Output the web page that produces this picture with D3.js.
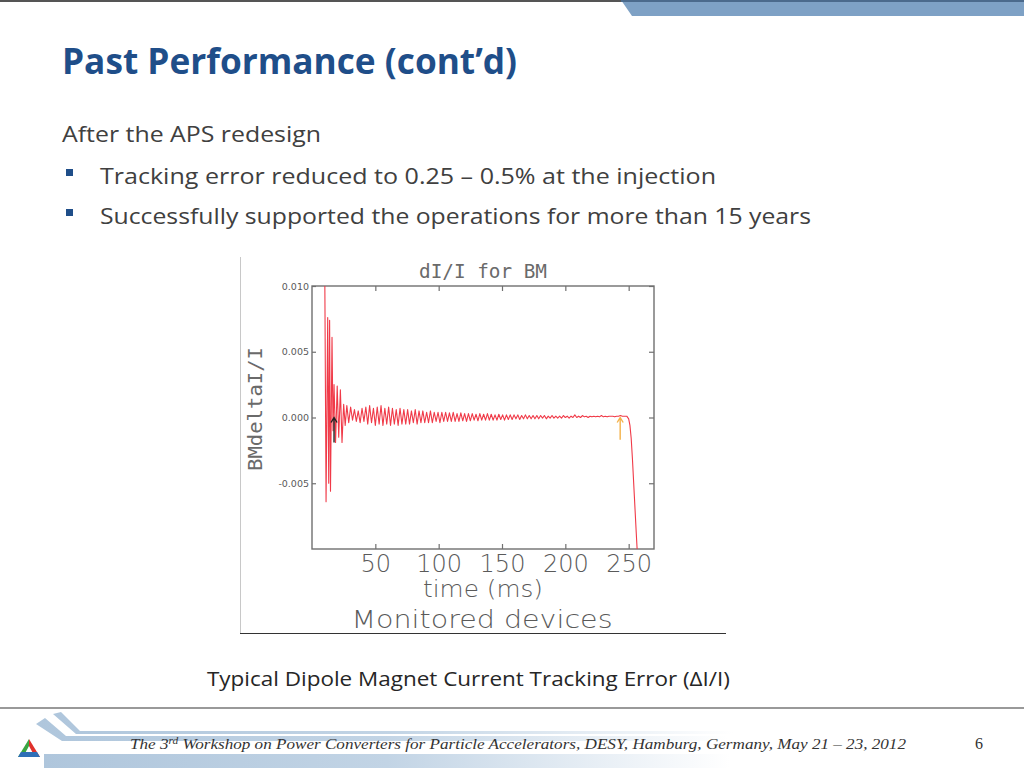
<!DOCTYPE html>
<html>
<head>
<meta charset="utf-8">
<script src="https://cdn.jsdelivr.net/npm/d3@7"></script>
<style>
  body { margin: 0; background: #fff; }
  svg { display: block; }
</style>
</head>
<body>
<div id="slide"></div>
<script>

// dI/I trace for BM (time in ms)
let timeMs = [10.0, 11.1, 12.4, 13.2, 13.9, 14.6, 15.8, 16.6, 17.4, 18.6, 19.9, 21.1, 22.4, 23.7, 25.0, 26.2,
    27.5, 29, 30.5, 32, 33.5, 35, 36.5, 38, 39.5, 41, 42.5, 44, 45.5, 47, 48.5, 50, 51.5, 53, 54.5, 56,
    57.5, 59, 60.5, 62, 63.5, 65, 66.5, 68, 69.5, 71, 72.5, 74, 75.5, 77, 78.5, 80, 81.5, 83, 84.5, 86,
    87.5, 89, 90.5, 92, 93.5, 95, 96.5, 98, 99.5, 101, 102.5, 104, 105.5, 107, 108.5, 110, 111.5, 113, 114.5, 116,
    117.5, 119, 120.5, 122, 123.5, 125, 126.5, 128, 129.5, 131, 132.5, 134, 135.5, 137, 138.5, 140, 141.5, 143, 144.5, 146,
    147.5, 149, 150.5, 152, 153.5, 155, 156.5, 158, 159.5, 161, 162.5, 164, 165.5, 167, 168.5, 170, 171.5, 173, 174.5, 176,
    177.5, 179, 180.5, 182, 183.5, 185, 186.5, 188, 189.5, 191, 192.5, 194, 195.5, 197, 198.5, 200, 201.5, 203, 204.5, 206,
    207.5, 209, 210.5, 212, 213.5, 215, 216.5, 218, 219.5, 221, 222.5, 224, 225.5, 227, 228.5, 230, 231.5, 233, 234.5, 236,
    237.5, 239, 240.5, 242, 243.5, 245,
    247, 248.5, 250, 251, 252, 253, 254.5, 256, 257.5];

let dIoverI = [0.0125, -0.0064, 0.0076, -0.0050, 0.0074, -0.0056, 0.0061, -0.0010, 0.0025, -0.0019, 0.0024, -0.0015, 0.0021, -0.0019, 0.0010, -0.0006,
    0.0009, -0.0004, 0.0008, -0.0002, 0.0006, -0.0003, 0.0005, -0.0004, 0.0007, -0.0003,
    0.0008, -0.0005, 0.0009, -0.0004, 0.0007, -0.0006, 0.0008, -0.0005, 0.0009, -0.0006,
    0.0007, -0.0005, 0.0008, -0.0006, 0.0007, -0.0005, 0.0006, -0.0006, 0.0007, -0.0005,
    0.0006, -0.0005, 0.0006, -0.0005, 0.0005, -0.0004, 0.0006, -0.0005, 0.0005, -0.0004,
    0.0005, -0.0004, 0.0004, -0.0004, 0.0005, -0.0004, 0.0004, -0.0003, 0.0004, -0.0004,
    0.0004, -0.0003, 0.0004, -0.0003, 0.00035, -0.0003, 0.0004, -0.0003, 0.0003, -0.0003,
    0.00035, -0.00025, 0.0003, -0.0003, 0.0003, -0.00025, 0.0003, -0.0002, 0.00025, -0.00025,
    0.0003, -0.0002, 0.00025, -0.0002, 0.0003, -0.0002, 0.00025, -0.0002, 0.0002, -0.0002,
    0.00025, -0.00015, 0.0002, -0.0002, 0.0002, -0.00015, 0.0002, -0.00015, 0.0002, -0.0001,
    0.0002, -0.00015, 0.00015, -0.0001, 0.0002, -0.0001, 0.00015, -0.0001, 0.00015, -0.0001,
    0.00015, -0.0001, 0.00015, -0.00005, 0.00015, -0.0001, 0.0001, -0.00005, 0.00015, -0.00005,
    0.0001, -0.00005, 0.0001, -0.00005, 0.00015, 0.0, 0.0001, -0.00005, 0.0001, 0.0,
    0.0002, 0.0, 0.0001, 0.0, 0.00015, 0.00005, 0.0001, 0.0, 0.0001, 0.00005,
    0.0001, 0.00005, 0.0001, 0.00005, 0.00015, 0.00005, 0.0001, 0.00005, 0.0001, 0.0001,
    0.0001, 0.00005, 0.0001, 0.0001, 0.00015, 0.0001,
    0.0001, 0.0001, -0.0001, -0.0006, -0.0016, -0.0032, -0.0060, -0.0088, -0.0115];

// marker arrows (time, tail value, tip value)
let arrowTimes = [17.4, 243.3];
let arrowTails = [-0.0019, -0.0017];
let arrowTips = [0.0, 0.0];

let xTicks = [50, 100, 150, 200, 250];
let yTicks = [-0.005, 0.000, 0.005, 0.010];

let bullets = ["Tracking error reduced to 0.25 \u2013 0.5% at the injection",
    "Successfully supported the operations for more than 15 years"];

let svg = d3.select("#slide").append("svg")
    .attr("width", 1024)
    .attr("height", 768);

// ---- slide header ----
svg.append("line")
    .attr("x1", 0).attr("x2", 624).attr("y1", 1).attr("y2", 1)
    .attr("stroke", "#555").attr("stroke-width", 2);
svg.append("path")
    .attr("d", "M621,0 L632,16 L1024,16 L1024,0 Z")
    .attr("fill", "#7ea1c5");
svg.append("line")
    .attr("x1", 621).attr("x2", 1024).attr("y1", 1).attr("y2", 1)
    .attr("stroke", "#4b6a8c").attr("stroke-width", 2);

svg.append("text")
    .attr("x", 62).attr("y", 74)
    .attr("font-family", "'Open Sans', sans-serif")
    .attr("font-weight", "bold")
    .attr("font-size", 35)
    .attr("fill", "#1f4e89")
    .attr("textLength", 455).attr("lengthAdjust", "spacingAndGlyphs")
    .text("Past Performance (cont\u2019d)");

svg.append("text")
    .attr("x", 62).attr("y", 142)
    .attr("font-family", "'Open Sans', sans-serif")
    .attr("font-size", 22)
    .attr("fill", "#404040")
    .attr("textLength", 259).attr("lengthAdjust", "spacingAndGlyphs")
    .text("After the APS redesign");

let bulletLen = [616, 711];
bullets.forEach(function(b, i) {
    let by = 184 + i * 40;
    svg.append("rect")
        .attr("x", 66).attr("y", by - 15).attr("width", 7).attr("height", 7)
        .attr("fill", "#1f4e89");
    svg.append("text")
        .attr("x", 100).attr("y", by)
        .attr("font-family", "'Open Sans', sans-serif")
        .attr("font-size", 22)
        .attr("fill", "#404040")
        .attr("textLength", bulletLen[i]).attr("lengthAdjust", "spacingAndGlyphs")
        .text(b);
});

// ---- the plot image ----
svg.append("line")
    .attr("x1", 240.5).attr("x2", 240.5).attr("y1", 257).attr("y2", 633)
    .attr("stroke", "#c8c8c8");
svg.append("line")
    .attr("x1", 240).attr("x2", 726).attr("y1", 633.5).attr("y2", 633.5)
    .attr("stroke", "#333").attr("stroke-width", 1.2);

let plot = {left: 312, right: 654, top: 286, bottom: 549};

let x = d3.scaleLinear()
    .domain([0, 270])
    .range([plot.left, plot.right]);

let y = d3.scaleLinear()
    .domain([-0.01, 0.01])
    .range([plot.bottom, plot.top]);

let axisColor = "#707070";
let labelColor = "#5a5a5a";

let xAxis = d3.axisBottom(x).tickValues(xTicks).tickSize(-5).tickPadding(6).tickFormat(d3.format("d"));
let xAxisTop = d3.axisTop(x).tickValues(xTicks).tickSize(-5).tickFormat("");
let yAxis = d3.axisLeft(y).tickValues(yTicks).tickSize(-4).tickPadding(3)
    .tickFormat(d => d3.format(".3f")(d).replace("\u2212", "-"));
let yAxisRight = d3.axisRight(y).tickValues(yTicks).tickSize(-5).tickFormat("");

let gx = svg.append("g")
    .attr("transform", "translate(0," + plot.bottom + ")")
    .call(xAxis);
let gxt = svg.append("g")
    .attr("transform", "translate(0," + plot.top + ")")
    .call(xAxisTop);
let gy = svg.append("g")
    .attr("transform", "translate(" + plot.left + ",0)")
    .call(yAxis);
let gyr = svg.append("g")
    .attr("transform", "translate(" + plot.right + ",0)")
    .call(yAxisRight);

[gx, gxt, gy, gyr].forEach(function(g) {
    g.select(".domain").remove();
    g.selectAll(".tick line").attr("stroke", axisColor).attr("stroke-width", 1.2);
});

gx.selectAll(".tick text")
    .attr("font-family", "'DejaVu Sans', sans-serif")
    .attr("font-weight", 200)
    .attr("font-size", 24)
    .attr("fill", labelColor);

gy.selectAll(".tick text")
    .attr("font-family", "'DejaVu Sans', sans-serif")
    .attr("font-size", 9.5)
    .attr("fill", labelColor);

svg.append("rect")
    .attr("x", plot.left).attr("y", plot.top)
    .attr("width", plot.right - plot.left).attr("height", plot.bottom - plot.top)
    .attr("fill", "none")
    .attr("stroke", axisColor).attr("stroke-width", 1.4);

svg.append("clipPath").attr("id", "plotclip")
    .append("rect")
    .attr("x", plot.left).attr("y", plot.top)
    .attr("width", plot.right - plot.left).attr("height", plot.bottom - plot.top);

let trace = timeMs.map((t, i) => ({t: t, v: dIoverI[i]}));

let line = d3.line()
    .x(d => x(d.t))
    .y(d => y(d.v));

svg.append("path")
    .datum(trace)
    .attr("clip-path", "url(#plotclip)")
    .attr("d", line)
    .attr("fill", "none")
    .attr("stroke", "#f03a48")
    .attr("stroke-width", 1.1)
    .attr("stroke-linejoin", "round");

// marker arrows
let arrowColors = ["#222", "#f4b24a"];
arrowTimes.forEach(function(t, i) {
    let ax = x(t), y0 = y(arrowTails[i]), y1 = y(arrowTips[i]);
    svg.append("path")
        .attr("d", "M" + ax + "," + y0 + " L" + ax + "," + y1 +
            " M" + (ax - 3) + "," + (y1 + 5) + " L" + ax + "," + y1 + " L" + (ax + 3) + "," + (y1 + 5))
        .attr("fill", "none")
        .attr("stroke", arrowColors[i])
        .attr("stroke-width", 1.4);
});

// plot titles
let monoColor = "#6a6a6a";
svg.append("text")
    .attr("x", (plot.left + plot.right) / 2).attr("y", 278)
    .attr("text-anchor", "middle")
    .attr("font-family", "'DejaVu Sans Mono', monospace")
    .attr("font-size", 19)
    .attr("fill", monoColor)
    .attr("textLength", 128).attr("lengthAdjust", "spacingAndGlyphs")
    .text("dI/I for BM");

svg.append("text")
    .attr("transform", "translate(262,409) rotate(-90)")
    .attr("text-anchor", "middle")
    .attr("font-family", "'DejaVu Sans Mono', monospace")
    .attr("font-size", 20)
    .attr("fill", monoColor)
    .attr("textLength", 124).attr("lengthAdjust", "spacingAndGlyphs")
    .text("BMdeltaI/I");

svg.append("text")
    .attr("x", 483).attr("y", 597)
    .attr("text-anchor", "middle")
    .attr("font-family", "'DejaVu Sans', sans-serif")
    .attr("font-weight", 200)
    .attr("font-size", 23)
    .attr("fill", labelColor)
    .attr("textLength", 120).attr("lengthAdjust", "spacingAndGlyphs")
    .text("time (ms)");

svg.append("text")
    .attr("x", 482).attr("y", 628)
    .attr("text-anchor", "middle")
    .attr("font-family", "'DejaVu Sans', sans-serif")
    .attr("font-weight", 200)
    .attr("font-size", 25)
    .attr("fill", labelColor)
    .attr("textLength", 261).attr("lengthAdjust", "spacingAndGlyphs")
    .text("Monitored devices");

// caption
svg.append("text")
    .attr("x", 207).attr("y", 686)
    .attr("font-family", "'Open Sans', sans-serif")
    .attr("font-size", 20)
    .attr("fill", "#262626")
    .attr("textLength", 523).attr("lengthAdjust", "spacingAndGlyphs")
    .text("Typical Dipole Magnet Current Tracking Error (\u0394I/I)");

// ---- footer ----
svg.append("line")
    .attr("x1", 0).attr("x2", 1024).attr("y1", 708).attr("y2", 708)
    .attr("stroke", "#777").attr("stroke-width", 1.5);

let defs = svg.append("defs");
let grad = defs.append("linearGradient").attr("id", "fade")
    .attr("x1", 0).attr("x2", 1).attr("y1", 0).attr("y2", 0);
grad.append("stop").attr("offset", "0%").attr("stop-color", "#afc6dc");
grad.append("stop").attr("offset", "35%").attr("stop-color", "#c2d4e5");
grad.append("stop").attr("offset", "70%").attr("stop-color", "#ffffff");

svg.append("path")
    .attr("d", "M36,724 L45,718 L66,736 L1024,736 L1024,741 L62,741 Z")
    .attr("fill", "url(#fade)");
svg.append("path")
    .attr("d", "M53,714 L61,712 L80,731 L1024,731 L1024,734 L76,734 Z")
    .attr("fill", "url(#fade)");
svg.append("path")
    .attr("d", "M44,754 L1024,754 L1024,768 L44,768 Z")
    .attr("fill", "url(#fade)");

// lab logo
let lg = svg.append("g").attr("transform", "translate(29,749)");
lg.append("path").attr("d", "M0,-10 L-11,8 L-6,8 L0,-3 Z").attr("fill", "#3aa542");
lg.append("path").attr("d", "M0,-10 L11,8 L6,8 L0,-3 Z").attr("fill", "#e0312b");
lg.append("path").attr("d", "M-11,8 L11,8 L8,3 L-8,3 Z").attr("fill", "#2f6fb7");

let foot = svg.append("text")
    .attr("x", 130).attr("y", 749)
    .attr("font-family", "'Liberation Serif', serif")
    .attr("font-style", "italic")
    .attr("font-size", 15)
    .attr("fill", "#333")
    .attr("textLength", 776).attr("lengthAdjust", "spacingAndGlyphs");
foot.append("tspan").text("The 3");
foot.append("tspan").attr("dy", -5).attr("font-size", 10).text("rd");
foot.append("tspan").attr("dy", 5)
    .text(" Workshop on Power Converters for Particle Accelerators, DESY, Hamburg, Germany, May 21 \u2013 23, 2012");

svg.append("text")
    .attr("x", 975).attr("y", 749)
    .attr("font-family", "'Liberation Serif', serif")
    .attr("font-size", 16)
    .attr("fill", "#333")
    .text("6");

</script>
</body>
</html>
